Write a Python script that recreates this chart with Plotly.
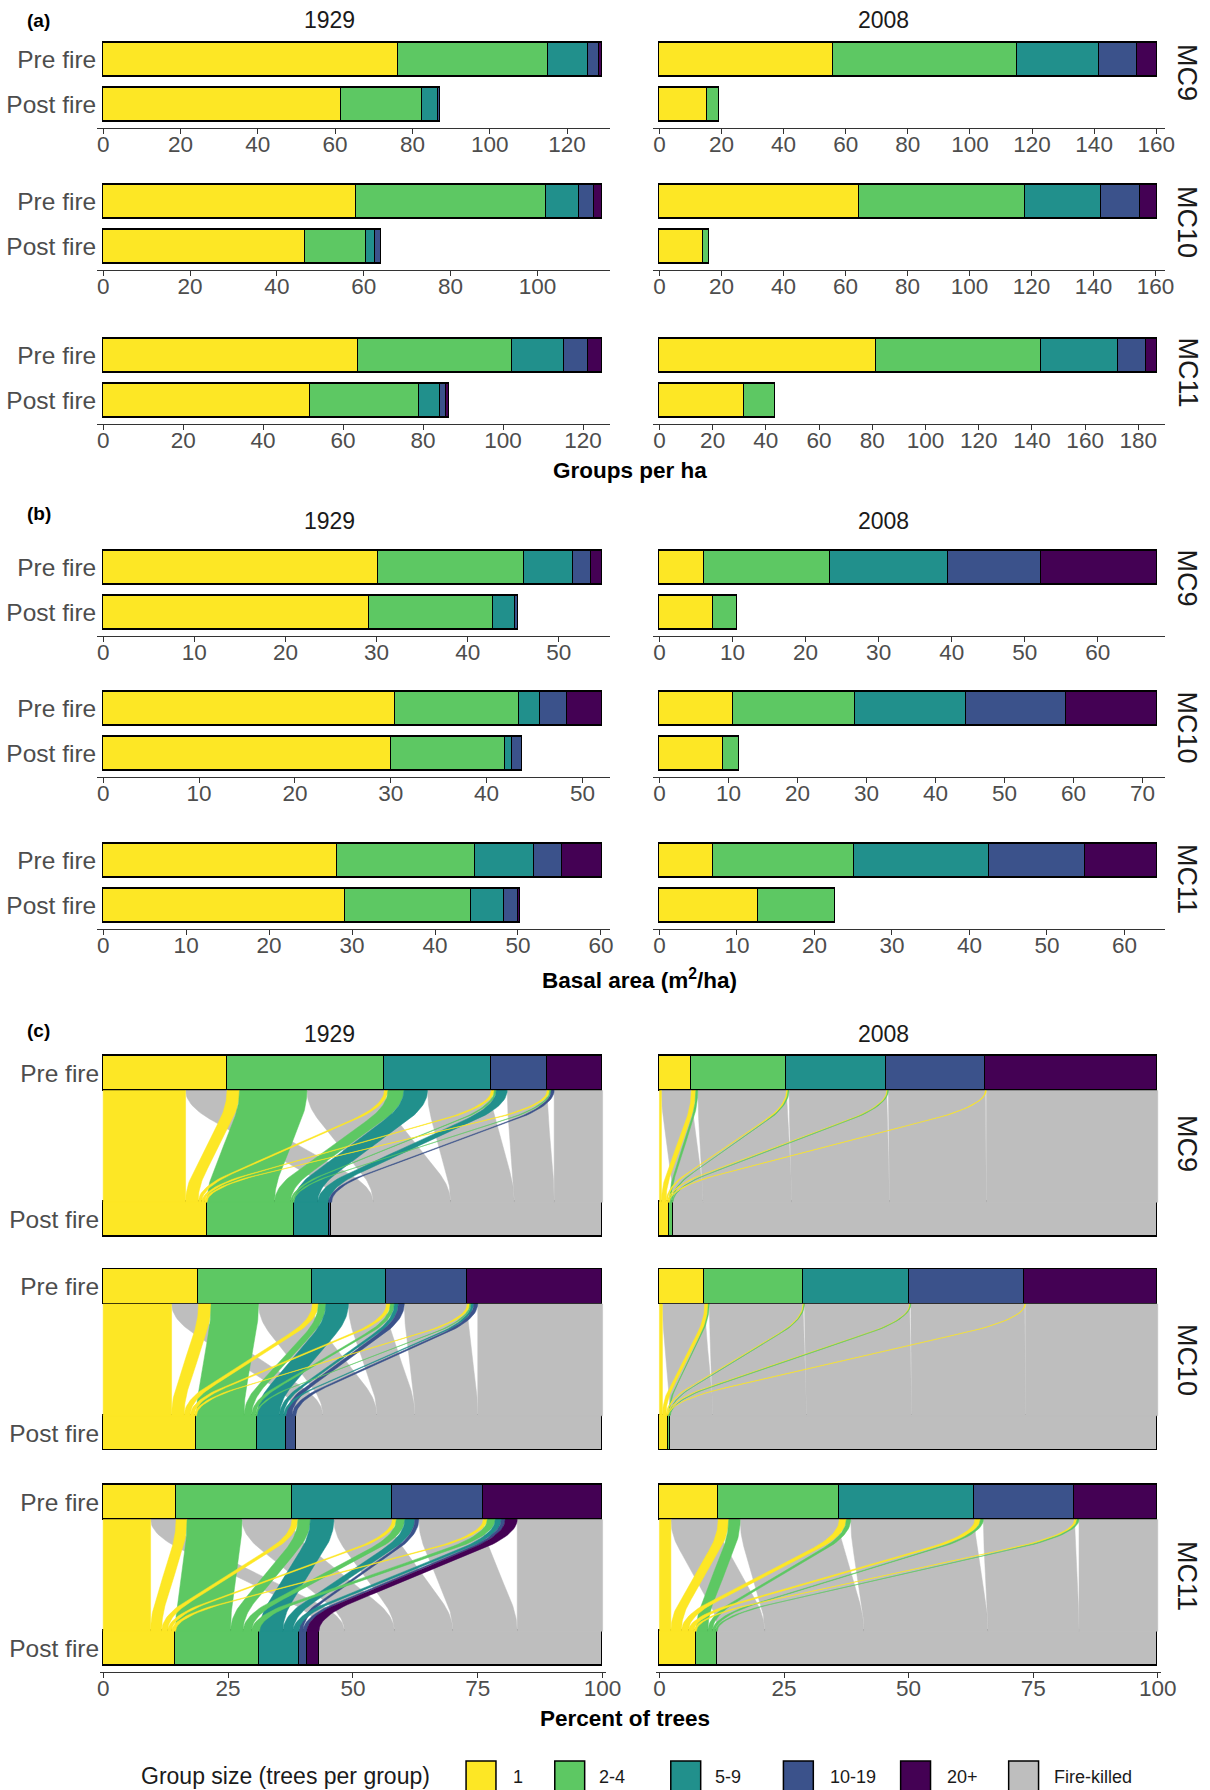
import numpy as np
import plotly.graph_objects as go

W, H = 1210, 1790
FIG_W = 1225  # page-width compensation for the capture

# ---------------- categories ----------------
GROUPS = ["1", "2-4", "5-9", "10-19", "20+"]
GROUP_COLORS = ["#FDE725", "#5DC863", "#21908C", "#3B528B", "#440154"]
KILLED_LABEL = "Fire-killed"
KILLED_COLOR = "#BEBEBE"
SITES = ["MC9", "MC10", "MC11"]
YEARS = ["1929", "2008"]
STAGES = ["Pre fire", "Post fire"]

# ---------------- (a) Groups per ha  [1, 2-4, 5-9, 10-19, 20+] ----------------
groups_MC9_1929_pre = [76.3, 38.8, 10.3, 2.8, 1.0]
groups_MC9_1929_post = [61.5, 21.0, 4.1, 0.5, 0.0]
groups_MC10_1929_pre = [58.3, 43.8, 7.4, 3.5, 2.0]
groups_MC10_1929_post = [46.6, 14.0, 2.1, 1.4, 0.0]
groups_MC11_1929_pre = [63.7, 38.5, 13.1, 5.9, 3.7]
groups_MC11_1929_post = [51.8, 27.2, 5.4, 1.5, 0.7]
groups_MC9_2008_pre = [56.0, 59.3, 26.3, 12.3, 6.6]
groups_MC9_2008_post = [15.5, 3.7, 0.0, 0.0, 0.0]
groups_MC10_2008_pre = [64.4, 53.7, 24.4, 12.5, 5.7]
groups_MC10_2008_post = [14.1, 2.1, 0.0, 0.0, 0.0]
groups_MC11_2008_pre = [81.4, 62.3, 28.6, 10.8, 4.2]
groups_MC11_2008_post = [31.8, 11.9, 0.0, 0.0, 0.0]

# ---------------- (b) Basal area (m2/ha) ----------------
basal_MC9_1929_pre = [30.2, 16.0, 5.4, 1.9, 1.3]
basal_MC9_1929_post = [29.2, 13.6, 2.4, 0.3, 0.0]
basal_MC10_1929_pre = [30.5, 12.9, 2.2, 2.8, 3.7]
basal_MC10_1929_post = [30.0, 11.9, 0.8, 1.0, 0.0]
basal_MC11_1929_pre = [28.2, 16.7, 7.1, 3.3, 4.9]
basal_MC11_1929_post = [29.2, 15.2, 3.9, 1.7, 0.3]
basal_MC9_2008_pre = [6.1, 17.3, 16.1, 12.7, 16.0]
basal_MC9_2008_post = [7.4, 3.2, 0.0, 0.0, 0.0]
basal_MC10_2008_pre = [10.7, 17.7, 16.1, 14.4, 13.3]
basal_MC10_2008_post = [9.3, 2.3, 0.0, 0.0, 0.0]
basal_MC11_2008_pre = [7.0, 18.1, 17.5, 12.4, 9.3]
basal_MC11_2008_post = [12.7, 10.0, 0.0, 0.0, 0.0]

# ---------------- (c) Percent of trees: flows pre-group (rows) -> post-group (cols) ----------------
# cols: 1, 2-4, 5-9, 10-19, 20+, Fire-killed
flows_MC9_1929 = [
    [16.5, 0.0, 0.0, 0.0, 0.0, 8.3],
    [2.5, 13.5, 0.0, 0.0, 0.0, 15.5],
    [0.7, 3.2, 4.75, 0.0, 0.0, 12.75],
    [0.6, 0.4, 2.2, 0.0, 0.0, 8.0],
    [0.5, 0.3, 0.0, 0.6, 0.0, 9.7],
]
flows_MC10_1929 = [
    [13.7, 0.0, 0.0, 0.0, 0.0, 5.4],
    [2.5, 9.5, 0.0, 0.0, 0.0, 10.8],
    [1.2, 1.5, 4.5, 0.0, 0.0, 7.6],
    [0.8, 0.8, 0.8, 1.2, 0.0, 12.6],
    [0.5, 0.3, 0.5, 0.8, 0.0, 25.0],
]
flows_MC11_1929 = [
    [9.5, 0.0, 0.0, 0.0, 0.0, 5.1],
    [2.2, 11.0, 0.0, 0.0, 0.0, 10.0],
    [1.2, 2.5, 4.7, 0.0, 0.0, 11.7],
    [0.8, 1.7, 2.0, 0.8, 0.0, 12.9],
    [0.8, 1.6, 1.2, 0.8, 2.4, 17.1],
]
flows_MC9_2008 = [
    [0.4, 0.0, 0.0, 0.0, 0.0, 6.0],
    [0.9, 0.4, 0.0, 0.0, 0.0, 17.8],
    [0.3, 0.2, 0.0, 0.0, 0.0, 19.6],
    [0.2, 0.15, 0.0, 0.0, 0.0, 19.45],
    [0.2, 0.0, 0.0, 0.0, 0.0, 34.4],
]
flows_MC10_2008 = [
    [0.6, 0.0, 0.0, 0.0, 0.0, 8.5],
    [0.7, 0.2, 0.0, 0.0, 0.0, 18.8],
    [0.2, 0.1, 0.0, 0.0, 0.0, 21.1],
    [0.15, 0.1, 0.0, 0.0, 0.0, 22.85],
    [0.15, 0.0, 0.0, 0.0, 0.0, 26.55],
]
flows_MC11_2008 = [
    [2.3, 0.0, 0.0, 0.0, 0.0, 9.5],
    [2.1, 2.3, 0.0, 0.0, 0.0, 19.9],
    [1.4, 0.9, 0.0, 0.0, 0.0, 24.9],
    [1.1, 0.6, 0.0, 0.0, 0.0, 18.3],
    [0.5, 0.4, 0.0, 0.0, 0.0, 15.8],
]

GROUPS_DATA = {
    ("MC9", "1929"): (groups_MC9_1929_pre, groups_MC9_1929_post),
    ("MC10", "1929"): (groups_MC10_1929_pre, groups_MC10_1929_post),
    ("MC11", "1929"): (groups_MC11_1929_pre, groups_MC11_1929_post),
    ("MC9", "2008"): (groups_MC9_2008_pre, groups_MC9_2008_post),
    ("MC10", "2008"): (groups_MC10_2008_pre, groups_MC10_2008_post),
    ("MC11", "2008"): (groups_MC11_2008_pre, groups_MC11_2008_post),
}
BASAL_DATA = {
    ("MC9", "1929"): (basal_MC9_1929_pre, basal_MC9_1929_post),
    ("MC10", "1929"): (basal_MC10_1929_pre, basal_MC10_1929_post),
    ("MC11", "1929"): (basal_MC11_1929_pre, basal_MC11_1929_post),
    ("MC9", "2008"): (basal_MC9_2008_pre, basal_MC9_2008_post),
    ("MC10", "2008"): (basal_MC10_2008_pre, basal_MC10_2008_post),
    ("MC11", "2008"): (basal_MC11_2008_pre, basal_MC11_2008_post),
}
FLOW_DATA = {
    ("MC9", "1929"): flows_MC9_1929,
    ("MC10", "1929"): flows_MC10_1929,
    ("MC11", "1929"): flows_MC11_1929,
    ("MC9", "2008"): flows_MC9_2008,
    ("MC10", "2008"): flows_MC10_2008,
    ("MC11", "2008"): flows_MC11_2008,
}

# ---------------- layout constants (pixels) ----------------
FONT = "Liberation Sans, Arial, sans-serif"
AXC = "#333333"
TXT = "#4D4D4D"
COLS = {
    "1929": dict(dom=(94.5, 609.0), zero=100.5, full=601.6),
    "2008": dict(dom=(652.5, 1166.0), zero=658.6, full=1158.6),
}
COLS_C = {
    "1929": dict(zero=100.5, full=601.6),
    "2008": dict(zero=658.6, full=1158.6),
}
A_PRE_CENTERS = [59.7, 201.7, 355.5]
B_PRE_CENTERS = [567.8, 708.5, 860.8]
C_PRE_TOPS = [1056.0, 1269.5, 1485.0]
ROW_STEP = 45.0
C_UNIT = 34.5


def px_x(p):
    return p / W


def px_y(p):
    return 1 - p / H


fig = go.Figure()
layout = {}
axis_n = [0]


def new_axes():
    axis_n[0] += 1
    n = axis_n[0]
    sx = "" if n == 1 else str(n)
    return n, "x" + sx, "y" + sx, "xaxis" + sx, "yaxis" + sx


XTICKFONT = dict(size=22.5, color=TXT, family=FONT)
YTICKFONT = dict(size=24.5, color=TXT, family=FONT)
XSTANDOFF = -9


def bar_panel(pre, post, col, pre_center, show_y, dtick):
    n, xr, yr, xk, yk = new_axes()
    c = COLS[col]
    M = max(sum(pre), sum(post))
    scale = (c["full"] - c["zero"]) / M
    lo = -(c["zero"] - c["dom"][0]) / scale
    hi = M + (c["dom"][1] - c["full"]) / scale
    top = pre_center - 27.0
    bot = pre_center + ROW_STEP + 23.5
    layout[xk] = dict(domain=[px_x(c["dom"][0]), px_x(c["dom"][1])], anchor=yr,
                      range=[lo, hi], showline=True, linecolor=AXC, linewidth=1.2,
                      ticks="outside", ticklen=5, tickwidth=1.2, tickcolor=AXC,
                      tickfont=XTICKFONT, tick0=0, dtick=dtick, ticklabelstandoff=XSTANDOFF,
                      showgrid=False, zeroline=False, fixedrange=True)
    layout[yk] = dict(domain=[px_y(bot), px_y(top)], anchor=xr, range=[-0.522, 1.6],
                      tickvals=[1, 0], ticktext=STAGES, showticklabels=show_y, ticks="",
                      showline=False, showgrid=False, zeroline=False, fixedrange=True,
                      tickfont=YTICKFONT)
    for g in range(len(GROUPS)):
        xs, ys = [], []
        if pre[g] > 0:
            xs.append(pre[g]); ys.append(1)
        if post[g] > 0:
            xs.append(post[g]); ys.append(0)
        if not xs:
            continue
        fig.add_trace(go.Bar(x=xs, y=ys, orientation="h", width=0.77, name=GROUPS[g],
                             marker=dict(color=GROUP_COLORS[g], line=dict(color="black", width=1.6)),
                             xaxis=xr, yaxis=yr, showlegend=False, hoverinfo="skip"))


def ribbon(a, b, v, ytop, ybot, k=0.27, n=60):
    d = np.linspace(0, 1, n)
    c = 1.0 / (1.0 - k)
    f = np.where(d <= k, c * d ** 2 / (2 * k),
                 np.where(d <= 1 - k, c * (k / 2 + d - k), 1 - c * (1 - d) ** 2 / (2 * k)))
    xl = a + (b - a) * f
    y = ytop - (ytop - ybot) * d
    xs = np.concatenate([xl, (xl + v)[::-1], [xl[0]]])
    ys = np.concatenate([y, y[::-1], [y[0]]])
    return xs, ys


POST_CATS = GROUPS + [KILLED_LABEL]
POST_COLORS = GROUP_COLORS + [KILLED_COLOR]
Y_POST_TOP = 1.0
Y_PRE_BOT = 4.24
Y_PRE_C = 4.74
Y_POST_C = 0.5


def alluvial_panel(flows, col, pre_top, show_y, show_x):
    n, xr, yr, xk, yk = new_axes()
    c = COLS_C[col]
    scale = (c["full"] - c["zero"]) / 100.0
    lo, hi = -0.6, 100.6
    d0 = c["zero"] + lo * scale
    d1 = c["zero"] + hi * scale
    top = pre_top - 0.06 * C_UNIT
    bot = pre_top + (5.24 + 0.175) * C_UNIT
    layout[xk] = dict(domain=[px_x(d0), px_x(d1)], anchor=yr, range=[lo, hi],
                      showline=show_x, linecolor=AXC, linewidth=1.2,
                      ticks="outside" if show_x else "", ticklen=5, tickwidth=1.2, tickcolor=AXC,
                      showticklabels=show_x, tickvals=[0, 25, 50, 75, 100],
                      tickfont=XTICKFONT, ticklabelstandoff=XSTANDOFF,
                      showgrid=False, zeroline=False, fixedrange=True)
    layout[yk] = dict(domain=[px_y(bot), px_y(top)], anchor=xr, range=[-0.175, 5.30],
                      tickvals=[Y_PRE_C, Y_POST_C], ticktext=STAGES, showticklabels=show_y,
                      ticks="", showline=False, showgrid=False, zeroline=False, fixedrange=True,
                      tickfont=YTICKFONT)
    F = np.array(flows, dtype=float)
    pre = F.sum(axis=1)
    post = F.sum(axis=0)
    pre_start = np.concatenate([[0], np.cumsum(pre)[:-1]])
    post_start = np.concatenate([[0], np.cumsum(post)[:-1]])
    ribbons = []
    for i in range(F.shape[0]):
        for j in range(F.shape[1]):
            v = F[i, j]
            if v <= 0:
                continue
            a = pre_start[i] + F[i, :j].sum()
            b = post_start[j] + F[:i, j].sum()
            ribbons.append((j, i, a, b, v))
    # fire-killed ribbons first (behind), coloured ones on top
    ordered = [r for r in ribbons if r[0] == 5] + [r for r in ribbons if r[0] != 5]
    for j, i, a, b, v in ordered:
        xs, ys = ribbon(a, b, v, Y_PRE_BOT, Y_POST_TOP)
        col_ = POST_COLORS[j]
        fig.add_trace(go.Scatter(x=xs, y=ys, mode="lines", fill="toself", fillcolor=col_,
                                 line=dict(color=col_, width=0.5), xaxis=xr, yaxis=yr,
                                 showlegend=False, hoverinfo="skip"))
    for g in range(len(GROUPS)):
        if pre[g] > 0:
            fig.add_trace(go.Bar(x=[pre[g]], y=[Y_PRE_C], orientation="h", width=1.0,
                                 marker=dict(color=GROUP_COLORS[g], line=dict(color="black", width=1.6)),
                                 xaxis=xr, yaxis=yr, showlegend=False, hoverinfo="skip"))
    for j in range(len(POST_CATS)):
        if post[j] > 0:
            fig.add_trace(go.Bar(x=[post[j]], y=[Y_POST_C], orientation="h", width=1.0,
                                 marker=dict(color=POST_COLORS[j], line=dict(color="black", width=1.6)),
                                 xaxis=xr, yaxis=yr, showlegend=False, hoverinfo="skip"))


for r, site in enumerate(SITES):
    for year in YEARS:
        pre, post = GROUPS_DATA[(site, year)]
        bar_panel(pre, post, year, A_PRE_CENTERS[r], year == "1929", 20)
for r, site in enumerate(SITES):
    for year in YEARS:
        pre, post = BASAL_DATA[(site, year)]
        bar_panel(pre, post, year, B_PRE_CENTERS[r], year == "1929", 10)
for r, site in enumerate(SITES):
    for year in YEARS:
        alluvial_panel(FLOW_DATA[(site, year)], year, C_PRE_TOPS[r], year == "1929", r == 2)

# ---------------- annotations ----------------
ann = []


def add_text(text, x, y, size, color="#1A1A1A", bold=False, angle=0, xanchor="center"):
    ann.append(dict(text=("<b>%s</b>" % text) if bold else text, x=px_x(x), y=px_y(y),
                    xref="paper", yref="paper", xanchor=xanchor, yanchor="middle",
                    showarrow=False, textangle=angle,
                    font=dict(size=size, color=color, family=FONT)))


for lbl, y in [("(a)", 20.5), ("(b)", 513.7), ("(c)", 1030.8)]:
    add_text(lbl, 22, y, 19, color="black", bold=True, xanchor="left")
for y in [19.7, 521.0, 1034.0]:
    add_text(YEARS[0], 327.6, y, 23)
    add_text(YEARS[1], 883.5, y, 23)

STRIP_Y = [72, 222, 372.5, 577.5, 727.5, 879, 1143, 1360, 1576]
for k, y in enumerate(STRIP_Y):
    add_text(SITES[k % 3], 1188, y, 27, color="#1A1A1A", angle=90)

add_text("Groups per ha", 629.5, 470.0, 22.5, color="black", bold=True)
add_text("Basal area (m<sup>2</sup>/ha)", 639.0, 979.0, 22.5, color="black", bold=True)
add_text("Percent of trees", 624.0, 1718.0, 22.5, color="black", bold=True)

# ---------------- legend ----------------
shapes = []
LEG_Y = 1776.0
add_text("Group size (trees per group)", 283.0, LEG_Y, 23, color="#1A1A1A")
legend_keys = [(464.6, 510.0), (553.6, 596.0), (670.0, 712.0), (783.0, 828.0), (900.6, 945.0), (1009.0, 1052.0)]
for (kx, lx), lab, colr in zip(legend_keys, POST_CATS, POST_COLORS):
    shapes.append(dict(type="rect", xref="paper", yref="paper",
                       x0=px_x(kx), x1=px_x(kx + 30), y0=px_y(1761), y1=px_y(1793),
                       fillcolor=colr, line=dict(color="black", width=1.5)))
    add_text(lab, lx, LEG_Y + 1, 18, color="#1A1A1A", xanchor="left")

fig.update_layout(
    width=FIG_W, height=H, autosize=False, margin=dict(l=0, r=0, t=0, b=0),
    paper_bgcolor="white", plot_bgcolor="white",
    barmode="stack", bargap=0, showlegend=False,
    font=dict(family=FONT),
    annotations=ann, shapes=shapes,
    **layout,
)

fig.write_html(
    "out.html",
    config={"displayModeBar": False, "responsive": False},
    post_script=(
        "document.documentElement.style.overflow='hidden';"
        "document.body.style.margin='0';document.body.style.overflow='hidden';"
    ),
)
